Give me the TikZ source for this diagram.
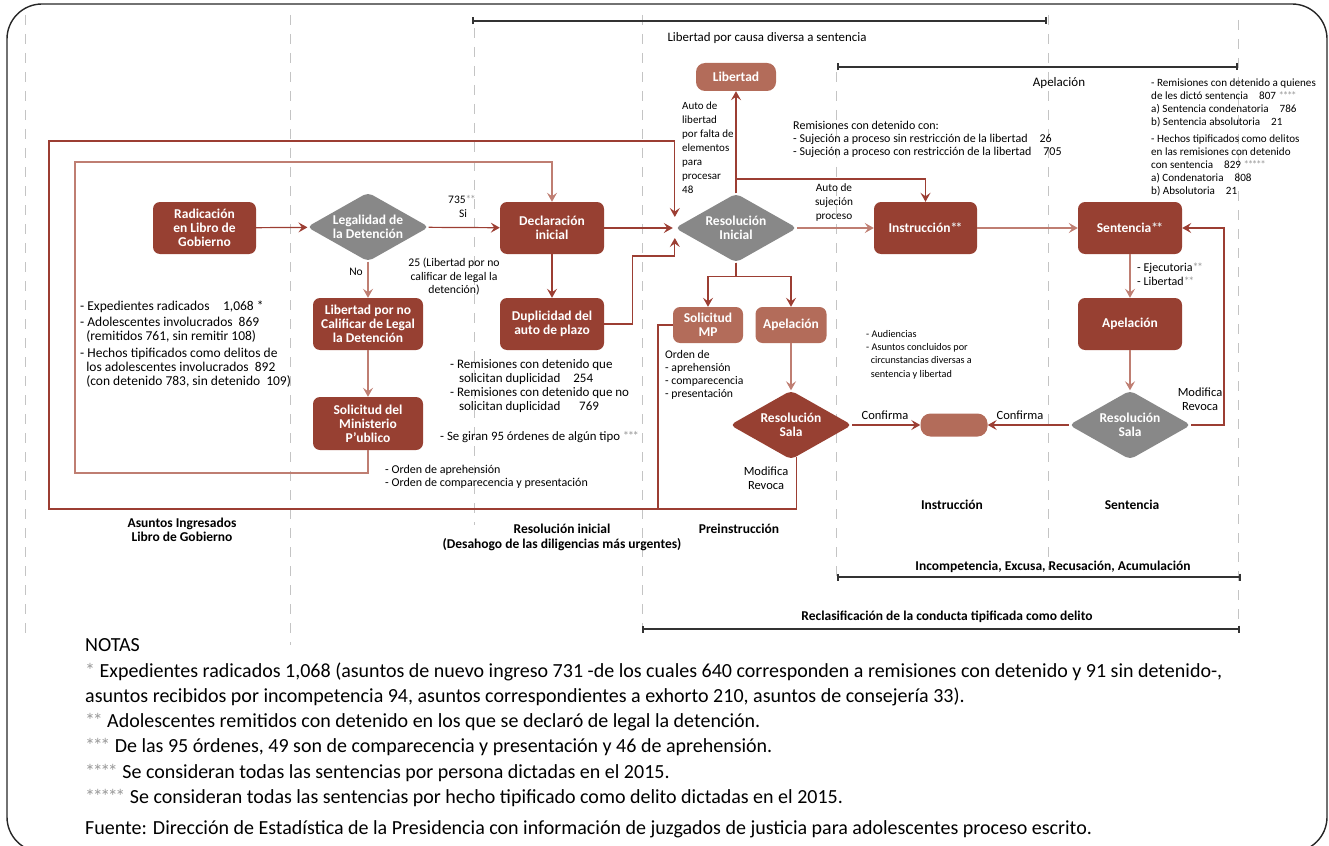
\documentclass[tikz,border=0pt]{standalone}
\usepackage{fontspec}
\setmainfont{Carlito}
\usetikzlibrary{shapes.geometric,arrows.meta,calc}
\definecolor{dred}{HTML}{974032}
\definecolor{lred}{HTML}{B36C5A}
\definecolor{dgray}{HTML}{888888}
\definecolor{lnA}{HTML}{9C3E33}
\definecolor{lnB}{HTML}{BF7E72}
\definecolor{star}{HTML}{9A9A9A}
\definecolor{starw}{HTML}{E6E6E6}
\definecolor{dashc}{HTML}{C4C4C4}
\newcommand\myfs[2]{\fontsize{#1}{#2}\selectfont}
\newcommand\sk{\kern-0.12em}
\begin{document}
\begin{tikzpicture}[x=1pt,y=-1pt,
  box/.style={rectangle, rounded corners=7pt, fill=dred, text=white, font=\bfseries\myfs{13.5}{14}, align=center, inner sep=0pt},
  lbox/.style={box, fill=lred},
  dia/.style={diamond, aspect=1.77, fill=dgray, rounded corners=5pt, text=white, font=\bfseries\myfs{13.5}{14}, align=center, inner sep=0pt, minimum width=122pt, minimum height=69pt},
  conn/.style={draw=lnA, line width=1.2pt, -{Stealth[length=9pt,width=10pt,inset=3.5pt]}},
  connB/.style={conn, draw=lnB},
  plain/.style={draw=lnA, line width=1.2pt},
  txt/.style={font=\myfs{12}{13.5}, align=left, inner sep=0pt, anchor=north west},
  ctxt/.style={font=\myfs{11}{14}, align=center, inner sep=0pt},
  btxt/.style={font=\bfseries\myfs{13.5}{14.5}, align=center, inner sep=0pt},
  note/.style={font=\myfs{20}{22}, inner sep=0pt, anchor=west},
  guide/.style={draw=dashc, line width=1pt, dash pattern=on 10pt off 9pt},
  brk/.style={draw=black!80, line width=1.3pt, {Bar[width=7pt,line width=2pt]}-{Bar[width=7pt,line width=2pt]}},
]
\useasboundingbox (0,0) rectangle (1329,845);
\begin{scope}
\clip (0,0) rectangle (1329,845);
\draw[line width=1.4pt, black!85, rounded corners=35pt] (7,4) rectangle (1327,852);
\end{scope}

% guide lines
\draw[guide] (25,15) -- (25,640);
\draw[guide] (290,15) -- (290,645);
\draw[guide] (474,28) -- (474,525);
\draw[guide] (642,15) -- (642,629);
\draw[guide] (836,72) -- (836,577);
\draw[guide] (1048,15) -- (1048,570);
\draw[guide] (1238,20) -- (1238,629);

% brackets
\draw[brk] (472,21) -- (1047,21);
\draw[brk] (837,67) -- (1238,67);
\draw[brk] (837,577) -- (1241,577);
\draw[brk] (642,629) -- (1240,629);
\node[font=\myfs{12.9}{14}, inner sep=0pt] (tLib) at (767,38) {Libertad por causa diversa a sentencia};
\node[font=\myfs{13}{14}, inner sep=0pt] (tApe) at (1059,83) {Apelación};
\node[btxt] (tInc) at (1053,567) {Incompetencia, Excusa, Recusación, Acumulación};
\node[btxt] (tRec) at (947,617) {Reclasificación de la conducta tipificada como delito};

% nodes
\node[box, minimum width=103pt, minimum height=52pt] (rad) at (204.5,228) {Radicación\\en Libro de\\Gobierno};
\node[dia] (leg) at (368,227) {Legalidad de\\la Detención};
\node[box, minimum width=104pt, minimum height=52pt] (dec) at (552,228) {Declaración\\inicial};
\node[dia] (resI) at (736,228) {Resolución\\Inicial};
\node[box, minimum width=103pt, minimum height=52pt] (ins) at (925.5,228) {Instrucción\textcolor{starw}{*\sk*}};
\node[box, minimum width=104pt, minimum height=52pt] (sen) at (1130,228) {Sentencia\textcolor{starw}{*\sk*}};
\node[lbox, minimum width=80pt, minimum height=28pt, rounded corners=9pt] (lib) at (736,77) {Libertad};
\node[box, minimum width=110pt, minimum height=52pt] (libNo) at (368,324) {Libertad por no\\Calificar de Legal\\la Detención};
\node[box, minimum width=110pt, minimum height=53pt] (solPub) at (368,423.5) {Solicitud del\\Ministerio\\P'ublico};
\node[box, minimum width=104pt, minimum height=52pt] (dup) at (552,324) {Duplicidad del\\auto de plazo};
\node[lbox, minimum width=70pt, minimum height=36pt] (solMP) at (708,325) {Solicitud\\MP};
\node[lbox, minimum width=71pt, minimum height=36pt] (apeP) at (791,325) {Apelación};
\node[dia, fill=dred] (salaL) at (791,425) {Resolución\\Sala};
\node[lbox, minimum width=67pt, minimum height=23pt, rounded corners=10pt] (blank) at (954,425) {};
\node[box, minimum width=104pt, minimum height=52pt] (apeR) at (1130,324) {Apelación};
\node[dia] (salaR) at (1130,425) {Resolución\\Sala};

% coordinates
\coordinate (br1) at (736,179);
\coordinate (bl) at (49,509);
\coordinate (il) at (75,473);

% connectors
\draw[conn] (rad) -- (leg);
\draw[conn] (leg) -- (dec);
\draw[connB] (leg) -- (libNo);
\draw[connB] (libNo) -- (solPub);
\draw[connB] (solPub.south) |- (il) -- (75,162) -| (dec.north);
\draw[conn] (dec) -- (dup);
\draw[conn] (dec) -- ($(resI.west)+(-2,0)$);
\draw[conn] (dup.east) -- ++(28,0) |- ($(resI.west)+(0,28)$) -- ($(resI.west)+(0,10)$);
\draw[conn] (salaL.-80) |- (bl) -- (49,141) -| ($(resI.west)+(0,-11)$);
\draw[plain] (solMP.west) -| (658,509);
\draw[conn] (resI) -- (lib);
\draw[conn] (br1) -| (ins.north);
\draw[connB] (resI) -- (ins);
\draw[connB] (ins) -- (sen);
\draw[conn] (resI.south) -- ++(0,14) -| (solMP.north);
\draw[conn] (resI.south) -- ++(0,14) -| (apeP.north);
\draw[connB] (apeP) -- (salaL);
\draw[conn] (salaL) -- (blank);
\draw[conn] (salaR) -- (blank);
\draw[connB] (sen) -- (apeR);
\draw[connB] (apeR) -- (salaR);
\draw[conn] (salaR.east) -- (1224,425) |- (sen.east);

% labels
\node[ctxt, font=\myfs{11.5}{14}] (l735) at (462,199) {735\textcolor{star}{*\sk*}};
\node[ctxt, font=\myfs{11.5}{14}] (lSi) at (463,214) {Si};
\node[ctxt, font=\myfs{11.5}{14}] (lNo) at (356,272) {No};
\node[ctxt, font=\myfs{11.7}{13.5}] (l25) at (454,277) {25 (Libertad por no\\calificar de legal la\\detención)};
\node[txt, font=\myfs{11}{14}] (l48) at (682,102) {Auto de\\libertad\\por falta de\\elementos\\para\\procesar\\48};
\node[ctxt, font=\myfs{11.3}{14}] (lsuj) at (834,202) {Auto de\\sujeción\\proceso};
\node[txt, font=\myfs{12}{13}] (lrem) at (793,121) {Remisiones con detenido con:\\- Sujeción a proceso sin restricción de la libertad\quad 26\\- Sujeción a proceso con restricción de la libertad\quad 705};
\node[txt, font=\myfs{11.1}{13}] (lright) at (1151,79) {- Remisiones con detenido a quienes\\de les dictó sentencia\quad 807 \textcolor{star}{*\sk*\sk*\sk*}\\a) Sentencia condenatoria\quad 786\\b) Sentencia absolutoria\quad 21\\[4pt]- Hechos tipificados como delitos\\en las remisiones con detenido\\con sentencia\quad 829 \textcolor{star}{*\sk*\sk*\sk*\sk*}\\a) Condenatoria\quad 808\\b) Absolutoria\quad 21};
\node[txt, font=\myfs{13.5}{14}] (lleft) at (80,301) {- Expedientes radicados\quad 1,068 *\\[2pt]- Adolescentes involucrados\ \ 869\\\ \ (remitidos 761, sin remitir 108)\\[3pt]- Hechos tipificados como delitos de\\\ \ los adolescentes involucrados\ \ 892\\\ \ (con detenido 783, sin detenido\ \ 109)};
\node[txt, font=\myfs{13}{14}] (ldup) at (450,359) {- Remisiones con detenido que\\\ \ \ solicitan duplicidad\quad 254\\- Remisiones con detenido que no\\\ \ \ solicitan duplicidad\quad\ \ 769};
\node[txt, font=\myfs{12.8}{14}] (lgir) at (440,431) {- Se giran 95 órdenes de algún tipo \textcolor{star}{*\sk*\sk*}};
\node[txt, font=\myfs{12}{13}] (lord) at (385,465) {- Orden de aprehensión\\- Orden de comparecencia y presentación};
\node[txt, font=\myfs{11.7}{13}] (lmp) at (665,350) {Orden de\\- aprehensión\\- comparecencia\\- presentación};
\node[txt, font=\myfs{10.2}{13.3}] (laud) at (866,330) {- Audiencias\\- Asuntos concluidos por\\\ \ circunstancias diversas a\\\ \ sentencia y libertad};
\node[ctxt, font=\myfs{12.5}{13}] (lconf1) at (885,415) {Confirma};
\node[ctxt, font=\myfs{12.5}{13}] (lconf2) at (1020,415) {Confirma};
\node[ctxt, font=\myfs{12.5}{14}] (lmod1) at (766,478) {Modifica\\Revoca};
\node[ctxt, font=\myfs{12.5}{14}] (lmod2) at (1200,399) {Modifica\\Revoca};
\node[txt, font=\myfs{12}{14}] (lejec) at (1137,263) {- Ejecutoria\textcolor{star}{*\sk*}\\- Libertad\textcolor{star}{*\sk*}};

% phase labels
\node[btxt] (pAs) at (182,530) {Asuntos Ingresados\\Libro de Gobierno};
\node[btxt] (pRes) at (562,537.5) {Resolución inicial\\(Desahogo de las diligencias más urgentes)};
\node[btxt] (pPre) at (739,529) {Preinstrucción};
\node[btxt] (pIns) at (952,505) {Instrucción};
\node[btxt] (pSen) at (1132,505) {Sentencia};

% notes
\node[note] (n0) at (85,645) {NOTAS};
\node[note] (n1) at (85,672) {\textcolor{star}{*} Expedientes radicados 1,068 (asuntos de nuevo ingreso 731 -de los cuales 640 corresponden a remisiones con detenido y 91 sin detenido-,};
\node[note] (n2) at (85,697) {asuntos recibidos por incompetencia 94, asuntos correspondientes a exhorto 210, asuntos de consejería 33).};
\node[note] (n3) at (85,722) {\textcolor{star}{*\sk*} Adolescentes remitidos con detenido en los que se declaró de legal la detención.};
\node[note] (n4) at (85,747) {\textcolor{star}{*\sk*\sk*} De las 95 órdenes, 49 son de comparecencia y presentación y 46 de aprehensión.};
\node[note] (n5) at (85,773) {\textcolor{star}{*\sk*\sk*\sk*} Se consideran todas las sentencias por persona dictadas en el 2015.};
\node[note] (n6) at (85,798) {\textcolor{star}{*\sk*\sk*\sk*\sk*} Se consideran todas las sentencias por hecho tipificado como delito dictadas en el 2015.};
\node[note] (n7) at (85,829) {Fuente: Dirección de Estadística de la Presidencia con información de juzgados de justicia para adolescentes proceso escrito.};
\end{tikzpicture}
\end{document}
